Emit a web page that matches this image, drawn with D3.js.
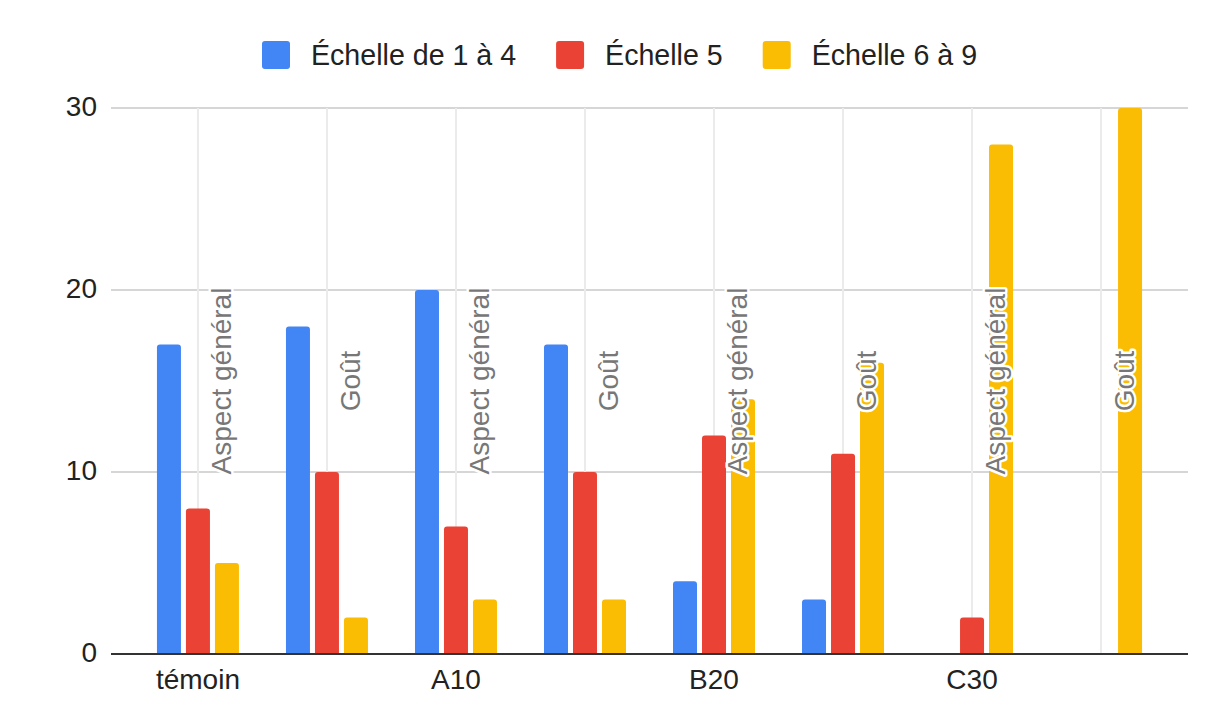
<!DOCTYPE html>
<html>
<head>
<meta charset="utf-8">
<script src="https://cdn.jsdelivr.net/npm/d3@7"></script>
<style>
  html, body { margin: 0; padding: 0; background: #fff; }
  svg { display: block; font-family: "Liberation Sans", Arial, sans-serif; }
</style>
</head>
<body>
<svg id="chart" width="1216" height="726"></svg>
<script>
// ---- data ----
const groups = ["témoin|Aspect général", "témoin|Goût", "A10|Aspect général", "A10|Goût",
                "B20|Aspect général", "B20|Goût", "C30|Aspect général", "C30|Goût"];
const subLabels = ["Aspect général", "Goût", "Aspect général", "Goût",
                   "Aspect général", "Goût", "Aspect général", "Goût"];
const categories = ["témoin", "A10", "B20", "C30"];
const seriesNames = ["Échelle de 1 à 4", "Échelle 5", "Échelle 6 à 9"];
const scale1to4 = [17, 18, 20, 17, 4, 3, 0, 0];
const scale5    = [8, 10, 7, 10, 12, 11, 2, 0];
const scale6to9 = [5, 2, 3, 3, 14, 16, 28, 30];
const yTicks = [0, 10, 20, 30];
const colors = ["#4285F4", "#EA4335", "#FBBC04"];

const seriesValues = [scale1to4, scale5, scale6to9];

const svg = d3.select("#chart");
const plotLeft = 111, plotRight = 1188, plotTop = 108, plotBottom = 654;

const x = d3.scalePoint().domain(groups).range([plotLeft, plotRight]).padding(0.674);
const y = d3.scaleLinear().domain([0, 30]).range([plotBottom, plotTop]);
const xs = d3.scaleBand().domain(seriesNames).range([-41, 41]).paddingInner(0.1724).paddingOuter(0);

// horizontal gridlines
svg.append("g").selectAll("line").data(yTicks.filter(d => d !== 0)).join("line")
  .attr("x1", plotLeft).attr("x2", plotRight)
  .attr("y1", d => y(d)).attr("y2", d => y(d))
  .attr("stroke", "#d6d6d6").attr("stroke-width", 2);

// vertical gridlines
svg.append("g").selectAll("line").data(groups).join("line")
  .attr("x1", d => x(d)).attr("x2", d => x(d))
  .attr("y1", plotTop).attr("y2", plotBottom)
  .attr("stroke", "#ebebeb").attr("stroke-width", 2);

// y tick labels
svg.append("g").selectAll("text").data(yTicks).join("text")
  .attr("x", 97).attr("y", d => y(d) + 8)
  .attr("text-anchor", "end")
  .attr("font-size", 28).attr("fill", "#222")
  .text(d => d);

// bars with rounded tops
function barPath(x0, w, y0, y1, r) {
  const h = y0 - y1;
  if (h <= 0) return "";
  r = Math.min(r, h, w / 2);
  return `M${x0},${y0}V${y1 + r}Q${x0},${y1} ${x0 + r},${y1}H${x0 + w - r}Q${x0 + w},${y1} ${x0 + w},${y1 + r}V${y0}Z`;
}
const barData = [];
seriesNames.forEach((s, si) => {
  groups.forEach((g, gi) => {
    barData.push({ s, si, g, v: seriesValues[si][gi] });
  });
});
svg.append("g").selectAll("path").data(barData.filter(d => d.v > 0)).join("path")
  .attr("d", d => barPath(x(d.g) + xs(d.s), xs.bandwidth(), y(0), y(d.v), 3))
  .attr("fill", d => colors[d.si]);

// baseline
svg.append("line")
  .attr("x1", plotLeft).attr("x2", plotRight)
  .attr("y1", y(0)).attr("y2", y(0))
  .attr("stroke", "#333").attr("stroke-width", 2);

// rotated sub labels
svg.append("g").selectAll("text").data(groups).join("text")
  .attr("transform", (d, i) => `translate(${x(d) + 33},${y(15)}) rotate(-90)`)
  .attr("text-anchor", "middle")
  .attr("font-size", 28)
  .attr("fill", "#777")
  .attr("stroke", "#fff").attr("stroke-width", 5).attr("stroke-linejoin", "round")
  .attr("paint-order", "stroke")
  .text((d, i) => subLabels[i]);

// category labels
svg.append("g").selectAll("text").data(categories).join("text")
  .attr("x", (d, i) => x(groups[i * 2]))
  .attr("y", 689)
  .attr("text-anchor", "middle")
  .attr("font-size", 28).attr("fill", "#222")
  .text(d => d);

// legend
const legend = svg.append("g");
let lx = 262;
seriesNames.forEach((s, i) => {
  legend.append("rect")
    .attr("x", lx).attr("y", 41).attr("width", 28).attr("height", 28)
    .attr("rx", 3).attr("fill", colors[i]);
  const t = legend.append("text")
    .attr("x", lx + 49).attr("y", 65)
    .attr("font-size", 28.6).attr("fill", "#222")
    .text(s);
  lx = lx + 49 + t.node().getComputedTextLength() + 40;
});
</script>
</body>
</html>
